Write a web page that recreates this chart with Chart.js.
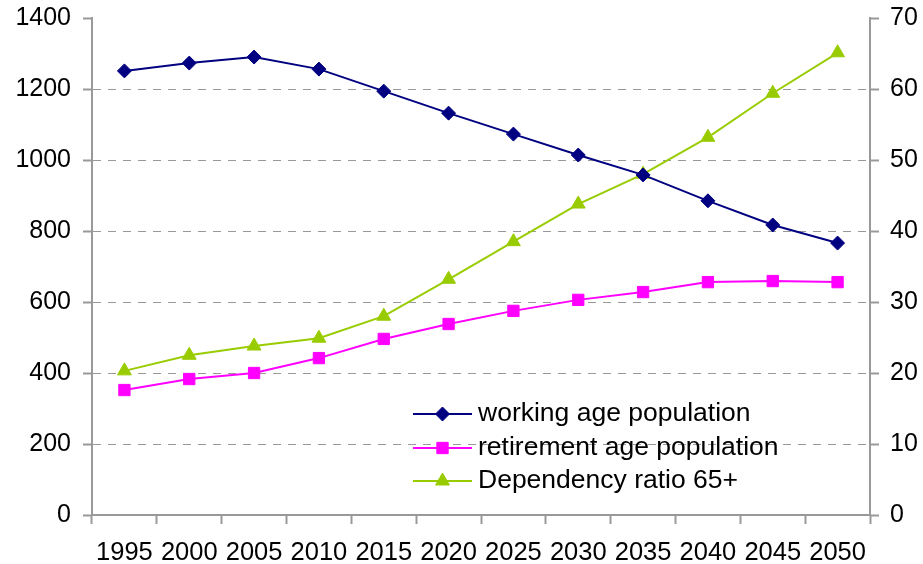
<!DOCTYPE html>
<html><head><meta charset="utf-8">
<script src="https://cdn.jsdelivr.net/npm/chart.js@4/dist/chart.umd.min.js"></script>
<style>html,body{margin:0;padding:0;background:#fff}</style>
</head><body>
<canvas id="c" width="923" height="564"></canvas>
<script>
const years = ['1995','2000','2005','2010','2015','2020','2025','2030','2035','2040','2045','2050'];
const workingAge = [1251,1273,1290,1256,1194,1132,1073,1014,958,885,817,766];
const retirementAge = [352,383,400,442,496,538,575,606,628,656,659,656];
const dependencyRatio = [20.3,22.5,23.8,24.9,28.0,33.2,38.5,43.8,48.0,53.2,59.4,65.1];
const seriesNames = ['working age population','retirement age population','Dependency ratio 65+'];

const GRAY = '#999999';
const FONT = 'Liberation Sans, Arial, sans-serif';

const insideLegend = {
  id: 'insideLegend',
  afterDatasetsDraw(chart) {
    const ctx = chart.ctx;
    const ca = chart.chartArea;
    const x0 = ca.left + 321, lineLen = 59, textX = ca.left + 386;
    const rowY = [ca.top + 396, ca.top + 430, ca.top + 463];
    ctx.save();
    chart.data.datasets.forEach((ds, i) => {
      const y = rowY[i];
      ctx.strokeStyle = ds.borderColor;
      ctx.lineWidth = ds.borderWidth;
      ctx.beginPath();
      ctx.moveTo(x0, y); ctx.lineTo(x0 + lineLen, y); ctx.stroke();
      ctx.fillStyle = ds.pointBackgroundColor;
      ctx.strokeStyle = ds.pointBorderColor;
      ctx.lineWidth = 1;
      Chart.helpers.drawPoint(ctx, {pointStyle: ds.pointStyle, radius: ds.pointRadius, rotation: 0, borderWidth: 1}, x0 + lineLen / 2, y);
      ctx.fillStyle = '#000';
      ctx.font = '26.5px ' + FONT;
      ctx.textBaseline = 'middle';
      ctx.textAlign = 'left';
      ctx.fillText(ds.label, textX, y);
    });
    ctx.restore();
  }
};

new Chart(document.getElementById('c'), {
  type: 'line',
  data: {
    labels: years,
    datasets: [
      { label: seriesNames[0], data: workingAge, yAxisID: 'y',
        borderColor: '#000080', backgroundColor: '#000080', borderWidth: 2,
        pointStyle: 'rectRot', pointRadius: 7, pointBackgroundColor: '#000080', pointBorderColor: '#000080', pointBorderWidth: 1 },
      { label: seriesNames[1], data: retirementAge, yAxisID: 'y',
        borderColor: '#FF00FF', backgroundColor: '#FF00FF', borderWidth: 2,
        pointStyle: 'rect', pointRadius: 8, pointBackgroundColor: '#FF00FF', pointBorderColor: '#FF00FF', pointBorderWidth: 1 },
      { label: seriesNames[2], data: dependencyRatio, yAxisID: 'y1',
        borderColor: '#99CC00', backgroundColor: '#99CC00', borderWidth: 2,
        pointStyle: 'triangle', pointRadius: 8, pointBackgroundColor: '#99CC00', pointBorderColor: '#99CC00', pointBorderWidth: 1 }
    ]
  },
  options: {
    responsive: false,
    animation: false,
    layout: { padding: { top: 18, left: 0, right: 0, bottom: 0 } },
    plugins: { legend: { display: false }, tooltip: { enabled: false } },
    scales: {
      x: {
        offset: true,
        grid: { display: true, drawOnChartArea: false, offset: true, drawTicks: true, tickLength: 9, tickColor: GRAY, tickWidth: 2 },
        border: { display: true, color: GRAY, width: 2 },
        ticks: { color: '#000', font: { family: FONT, size: 25.5 }, padding: 14, autoSkip: false, maxRotation: 0, minRotation: 0 },
        afterFit: s => { s.height = 49; s.paddingLeft = 0; s.paddingRight = 0; }
      },
      y: {
        position: 'left', min: 0, max: 1400,
        ticks: { stepSize: 200, color: '#000', font: { family: FONT, size: 25 }, padding: 12, callback: v => String(v) },
        grid: { color: c => (c.tick && c.tick.value === 1400) ? 'rgba(0,0,0,0)' : GRAY, lineWidth: 1, tickColor: GRAY, tickWidth: 2, tickLength: 9 },
        border: { display: true, color: GRAY, width: 2, dash: [8, 7] },
        afterFit: s => { s.width = 92; s.paddingTop = 0; s.paddingBottom = 0; }
      },
      y1: {
        position: 'right', min: 0, max: 70,
        ticks: { stepSize: 10, color: '#000', font: { family: FONT, size: 25 }, padding: 11, callback: v => String(v) },
        grid: { drawOnChartArea: false, tickColor: GRAY, tickWidth: 2, tickLength: 9 },
        border: { display: true, color: GRAY, width: 2 },
        afterFit: s => { s.width = 53; s.paddingTop = 0; s.paddingBottom = 0; }
      }
    }
  },
  plugins: [insideLegend]
});
</script>
</body></html>
